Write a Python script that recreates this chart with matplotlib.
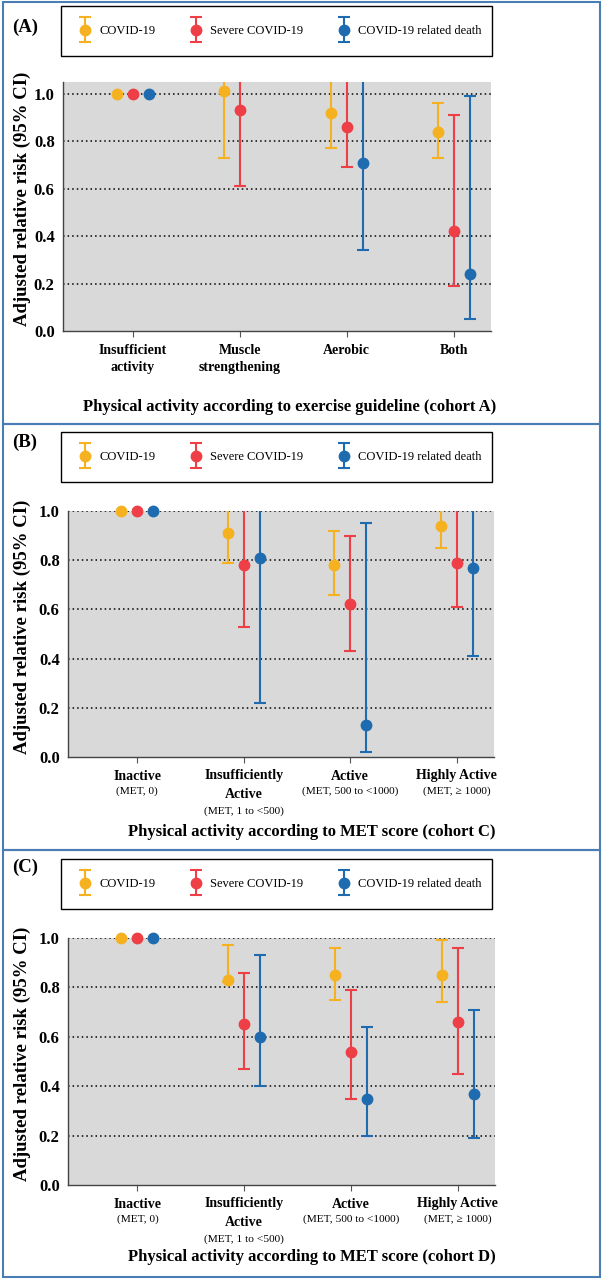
import matplotlib
matplotlib.use("Agg")
import matplotlib.pyplot as plt
import numpy as np
from matplotlib.patches import Rectangle
from matplotlib.container import ErrorbarContainer
from matplotlib.legend_handler import HandlerErrorbar

plt.rcParams['font.family'] = ['Liberation Serif', 'DejaVu Serif']

W, H = 603, 1280

series = ["COVID-19", "Severe COVID-19", "COVID-19 related death"]
colors = ["#F5B120", "#EE3E46", "#1F6BB0"]

# panel A: exercise guideline (cohort A)
cats_a = ["Insufficient\nactivity", "Muscle\nstrengthening", "Aerobic", "Both"]
a_est = [[1.0, 1.01, 0.92, 0.84], [1.0, 0.93, 0.86, 0.42], [1.0, np.nan, 0.71, 0.24]]
a_lo = [[1.0, 0.73, 0.77, 0.73], [1.0, 0.61, 0.69, 0.19], [1.0, np.nan, 0.34, 0.05]]
a_hi = [[1.0, 1.40, 1.10, 0.96], [1.0, 1.42, 1.07, 0.91], [1.0, np.nan, 1.48, 0.99]]

# panel B: MET score (cohort C)
cats_met = ["Inactive", "Insufficiently\nActive", "Active", "Highly Active"]
subs_met = ["(MET, 0)", "(MET, 1 to <500)", "(MET, 500 to <1000)", "(MET, \u2265 1000)"]
b_est = [[1.0, 0.91, 0.78, 0.94], [1.0, 0.78, 0.62, 0.79], [1.0, 0.81, 0.13, 0.77]]
b_lo = [[1.0, 0.79, 0.66, 0.85], [1.0, 0.53, 0.43, 0.61], [1.0, 0.22, 0.02, 0.41]]
b_hi = [[1.0, 1.05, 0.92, 1.04], [1.0, 1.15, 0.90, 1.02], [1.0, 2.98, 0.95, 1.45]]

# panel C: MET score (cohort D)
c_est = [[1.0, 0.83, 0.85, 0.85], [1.0, 0.65, 0.54, 0.66], [1.0, 0.60, 0.35, 0.37]]
c_lo = [[1.0, 0.82, 0.75, 0.74], [1.0, 0.47, 0.35, 0.45], [1.0, 0.40, 0.20, 0.19]]
c_hi = [[1.0, 0.97, 0.96, 0.99], [1.0, 0.86, 0.79, 0.96], [1.0, 0.93, 0.64, 0.71]]

panels = [
    dict(tag="(A)", cats=cats_a, subs=None, est=a_est, lo=a_lo, hi=a_hi, ymax=1.05,
         xlabel="Physical activity according to exercise guideline (cohort A)"),
    dict(tag="(B)", cats=cats_met, subs=subs_met, est=b_est, lo=b_lo, hi=b_hi, ymax=1.0,
         xlabel="Physical activity according to MET score (cohort C)"),
    dict(tag="(C)", cats=cats_met, subs=subs_met, est=c_est, lo=c_lo, hi=c_hi, ymax=1.0,
         xlabel="Physical activity according to MET score (cohort D)"),
]

# pixel layout: (panel top, axes left, axes right, axes top, axes bottom, legend top)
layout = [(0, 63, 491, 82, 331, 6), (425, 68, 494, 511, 757, 432),
          (850, 68, 495, 938, 1185, 859)]


def fx(px):
    return px / W


def fy(py):
    return 1 - py / H


fig = plt.figure(figsize=(W / 100, H / 100), dpi=100)

# panel borders
for top, bot in [(2, 424), (424, 850), (850, 1277)]:
    fig.patches.append(Rectangle((fx(3), fy(bot)), fx(597), (bot - top) / H,
                                 transform=fig.transFigure, fill=False,
                                 edgecolor="#4A7DB3", lw=1.5))

offsets = [-0.15, 0.0, 0.15]

for p, (top, l, r, t, b, lt) in zip(panels, layout):
    ax = fig.add_axes([fx(l), fy(b), (r - l) / W, (b - t) / H])
    ax.set_facecolor("#D9D9D9")
    x = np.arange(len(p["cats"]))
    handles = []
    for k in range(3):
        est = np.array(p["est"][k])
        lo = np.array(p["lo"][k])
        hi = np.array(p["hi"][k])
        # reference group, no interval
        ax.plot(x[0] + offsets[k], est[0], 'o', color=colors[k], ms=7.5, zorder=3,
                clip_on=False)
        h = ax.errorbar(x[1:] + offsets[k], est[1:],
                        yerr=[est[1:] - lo[1:], hi[1:] - est[1:]],
                        fmt='o', color=colors[k], ms=7.5, elinewidth=1.5,
                        capsize=4, capthick=1.5, zorder=3)
        handles.append(h)

    ax.set_xlim(-0.65, 3.35)
    ax.set_ylim(0, p["ymax"])
    ax.set_yticks([0, 0.2, 0.4, 0.6, 0.8, 1.0])
    ax.set_yticklabels(["0.0", "0.2", "0.4", "0.6", "0.8", "1.0"],
                       fontsize=12, fontweight="bold")
    for yv in [0.2, 0.4, 0.6, 0.8, 1.0]:
        ax.axhline(yv, color="black", lw=1.1, ls=(0, (1, 2)), zorder=1)
    ax.tick_params(axis='y', length=0, pad=6)
    ax.tick_params(axis='x', length=4, color="#555555", pad=5)
    ax.set_xticks(x)
    ax.set_xticklabels(p["cats"], fontsize=10, fontweight="bold", linespacing=1.5)
    for s in ["top", "right"]:
        ax.spines[s].set_visible(False)
    for s in ["left", "bottom"]:
        ax.spines[s].set_color("#444444")
        ax.spines[s].set_linewidth(1.0)

    if p["subs"]:
        for xi, cat, sub in zip(x, p["cats"], p["subs"]):
            nl = cat.count("\n")
            ax.annotate(sub, xy=(xi, 0), xycoords=('data', 'axes fraction'),
                        xytext=(0, -34 - 20 * nl), textcoords='offset pixels',
                        ha='center', va='center', fontsize=8.2)

    ax.set_ylabel("Adjusted relative risk (95% CI)", fontsize=13.5, fontweight="bold")
    ax.yaxis.set_label_coords((31 - l) / (r - l), 0.53)

    fig.text(fx(496), fy(top + 407), p["xlabel"], ha='right',
             va='center', fontsize=12, fontweight="bold")
    fig.text(fx(12), fy(top + 27 if top == 0 else top + 17), p["tag"], ha='left',
             va='center', fontsize=13.5, fontweight="bold")

    # legend frame drawn by hand, entries spread inside it
    fig.patches.append(Rectangle((fx(61), fy(lt + 50)), 431 / W, 50 / H,
                                 transform=fig.transFigure, fill=False,
                                 edgecolor="black", lw=1.0))
    fig.legend(handles, series, loc='center left', ncol=3, mode='expand',
               bbox_to_anchor=(fx(77), fy(lt + 25), 405 / W, 0),
               bbox_transform=fig.transFigure, frameon=False,
               fontsize=9, handlelength=1.2, handletextpad=0.6,
               borderaxespad=0, borderpad=0,
               handler_map={ErrorbarContainer: HandlerErrorbar(yerr_size=1.0)})

fig.savefig("out.png", dpi=100)
